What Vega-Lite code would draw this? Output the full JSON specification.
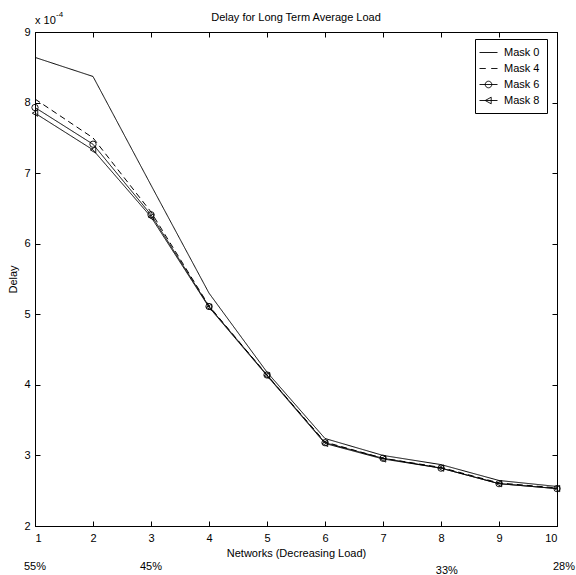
{
  "$schema": "https://vega.github.io/schema/vega-lite/v6.json",
  "width": 522,
  "height": 494,
  "autosize": {"type": "none"},
  "padding": {"left": 35, "top": 32, "right": 19, "bottom": 49},
  "background": "white",
  "config": {
    "font": "Liberation Sans",
    "view": {"stroke": "black", "strokeWidth": 1},
    "axis": {
      "domainColor": "black", "domainWidth": 1,
      "tickColor": "black", "tickWidth": 1, "tickSize": -5,
      "labelColor": "black", "labelFont": "Liberation Sans", "labelFontSize": 11,
      "titleColor": "black", "titleFont": "Liberation Sans", "titleFontSize": 11, "titleFontWeight": "normal",
      "grid": false
    }
  },
  "title": {
    "text": "Delay for Long Term Average Load",
    "font": "Liberation Sans", "fontSize": 11, "fontWeight": "normal", "color": "black",
    "anchor": "middle", "baseline": "bottom", "offset": -23
  },
  "datasets": {
    "delay": [
      {"network": 1, "series": "Mask 0", "delay": 8.64},
      {"network": 2, "series": "Mask 0", "delay": 8.37},
      {"network": 3, "series": "Mask 0", "delay": 6.83},
      {"network": 4, "series": "Mask 0", "delay": 5.30},
      {"network": 5, "series": "Mask 0", "delay": 4.18},
      {"network": 6, "series": "Mask 0", "delay": 3.24},
      {"network": 7, "series": "Mask 0", "delay": 3.00},
      {"network": 8, "series": "Mask 0", "delay": 2.87},
      {"network": 9, "series": "Mask 0", "delay": 2.645},
      {"network": 10, "series": "Mask 0", "delay": 2.56},
      {"network": 1, "series": "Mask 4", "delay": 8.05},
      {"network": 2, "series": "Mask 4", "delay": 7.50},
      {"network": 3, "series": "Mask 4", "delay": 6.45},
      {"network": 4, "series": "Mask 4", "delay": 5.12},
      {"network": 5, "series": "Mask 4", "delay": 4.14},
      {"network": 6, "series": "Mask 4", "delay": 3.19},
      {"network": 7, "series": "Mask 4", "delay": 2.96},
      {"network": 8, "series": "Mask 4", "delay": 2.83},
      {"network": 9, "series": "Mask 4", "delay": 2.61},
      {"network": 10, "series": "Mask 4", "delay": 2.54},
      {"network": 1, "series": "Mask 6", "delay": 7.93},
      {"network": 2, "series": "Mask 6", "delay": 7.41},
      {"network": 3, "series": "Mask 6", "delay": 6.41},
      {"network": 4, "series": "Mask 6", "delay": 5.11},
      {"network": 5, "series": "Mask 6", "delay": 4.14},
      {"network": 6, "series": "Mask 6", "delay": 3.18},
      {"network": 7, "series": "Mask 6", "delay": 2.96},
      {"network": 8, "series": "Mask 6", "delay": 2.82},
      {"network": 9, "series": "Mask 6", "delay": 2.60},
      {"network": 10, "series": "Mask 6", "delay": 2.53},
      {"network": 1, "series": "Mask 8", "delay": 7.85},
      {"network": 2, "series": "Mask 8", "delay": 7.33},
      {"network": 3, "series": "Mask 8", "delay": 6.38},
      {"network": 4, "series": "Mask 8", "delay": 5.10},
      {"network": 5, "series": "Mask 8", "delay": 4.13},
      {"network": 6, "series": "Mask 8", "delay": 3.17},
      {"network": 7, "series": "Mask 8", "delay": 2.95},
      {"network": 8, "series": "Mask 8", "delay": 2.82},
      {"network": 9, "series": "Mask 8", "delay": 2.60},
      {"network": 10, "series": "Mask 8", "delay": 2.53}
    ],
    "pct": [
      {"network": 1, "label": "55%"},
      {"network": 3, "label": "45%"},
      {"network": 8.1, "label": "33%"},
      {"network": 10.12, "label": "28%"}
    ]
  },
  "layer": [
    {
      "data": {"name": "delay"},
      "mark": {"type": "line", "color": "black", "strokeWidth": 1},
      "encoding": {
        "x": {
          "field": "network", "type": "quantitative",
          "scale": {"domain": [1, 10], "nice": false, "zero": false},
          "axis": {"orient": "bottom", "values": [1, 2, 3, 4, 5, 6, 7, 8, 9, 10], "title": "Networks (Decreasing Load)", "labelPadding": 11, "titlePadding": 4}
        },
        "y": {
          "field": "delay", "type": "quantitative",
          "scale": {"domain": [2, 9], "nice": false, "zero": false},
          "axis": {"orient": "left", "values": [2, 3, 4, 5, 6, 7, 8, 9], "title": "Delay", "labelPadding": 10, "titlePadding": 5}
        },
        "strokeDash": {
          "field": "series", "type": "nominal",
          "scale": {"domain": ["Mask 0", "Mask 4", "Mask 6", "Mask 8"], "range": [[1, 0], [6, 4], [1, 0], [1, 0]]},
          "legend": null
        },
        "detail": {"field": "series"}
      }
    },
    {
      "data": {"name": "delay"},
      "transform": [{"filter": {"field": "series", "oneOf": ["Mask 6", "Mask 8"]}}],
      "mark": {"type": "point", "filled": false, "color": "black", "strokeWidth": 0.9, "size": 40, "opacity": 1},
      "encoding": {
        "x": {"field": "network", "type": "quantitative", "axis": {"orient": "top", "values": [1, 2, 3, 4, 5, 6, 7, 8, 9, 10], "labels": false, "title": null}},
        "y": {"field": "delay", "type": "quantitative", "axis": {"orient": "right", "values": [2, 3, 4, 5, 6, 7, 8, 9], "labels": false, "title": null}},
        "shape": {
          "field": "series", "type": "nominal",
          "scale": {"domain": ["Mask 6", "Mask 8"], "range": ["circle", "triangle-left"]},
          "legend": null
        }
      }
    },
    {
      "data": {"name": "delay"},
      "mark": {"type": "point", "opacity": 0},
      "encoding": {
        "x": {"field": "network", "type": "quantitative", "axis": null},
        "y": {"field": "delay", "type": "quantitative", "axis": null},
        "shape": {
          "field": "series", "type": "nominal",
          "scale": {
            "domain": ["Mask 0", "Mask 4", "Mask 6", "Mask 8"],
            "range": [
              "M-1.5,0H1.5",
              "M-1.5,0H-0.45M0.45,0H1.5",
              "M-1.5,0H1.5M0.55,0A0.55,0.55 0 1,1 -0.55,0A0.55,0.55 0 1,1 0.55,0",
              "M-1.5,0H1.5M-0.55,0L0.45,-0.55L0.45,0.55Z"
            ]
          },
          "legend": {
            "title": null, "orient": "none", "legendX": 440, "legendY": 7,
            "strokeColor": "black", "fillColor": "white", "padding": 7, "cornerRadius": 0,
            "symbolSize": 144, "symbolStrokeColor": "black", "symbolFillColor": "transparent",
            "symbolStrokeWidth": 0.9, "symbolOpacity": 1,
            "labelFont": "Liberation Sans", "labelFontSize": 11, "labelColor": "black", "labelOffset": 9,
            "rowPadding": 4
          }
        }
      }
    },
    {
      "data": {"values": [{"note": "scale"}]},
      "mark": {"type": "text", "align": "left", "baseline": "middle", "fontSize": 11, "font": "Liberation Sans", "color": "black", "dy": -11},
      "encoding": {
        "x": {"datum": 1, "type": "quantitative", "axis": null},
        "y": {"datum": 9, "type": "quantitative", "axis": null},
        "text": {"value": "x 10"}
      }
    },
    {
      "data": {"values": [{"note": "exponent"}]},
      "mark": {"type": "text", "align": "left", "baseline": "middle", "fontSize": 8, "font": "Liberation Sans", "color": "black", "dx": 21, "dy": -17},
      "encoding": {
        "x": {"datum": 1, "type": "quantitative", "axis": null},
        "y": {"datum": 9, "type": "quantitative", "axis": null},
        "text": {"value": "-4"}
      }
    },
    {
      "data": {"name": "pct"},
      "transform": [{"filter": "datum.label != '33%'"}],
      "mark": {"type": "text", "align": "center", "baseline": "middle", "fontSize": 11, "font": "Liberation Sans", "color": "black", "dy": 41},
      "encoding": {
        "x": {"field": "network", "type": "quantitative", "axis": null},
        "y": {"datum": 2, "type": "quantitative", "axis": null},
        "text": {"field": "label"}
      }
    },
    {
      "data": {"name": "pct"},
      "transform": [{"filter": "datum.label == '33%'"}],
      "mark": {"type": "text", "align": "center", "baseline": "middle", "fontSize": 11, "font": "Liberation Sans", "color": "black", "dy": 45},
      "encoding": {
        "x": {"field": "network", "type": "quantitative", "axis": null},
        "y": {"datum": 2, "type": "quantitative", "axis": null},
        "text": {"field": "label"}
      }
    }
  ],
  "resolve": {
    "axis": {"x": "independent", "y": "independent"},
    "scale": {"shape": "independent"}
  }
}
